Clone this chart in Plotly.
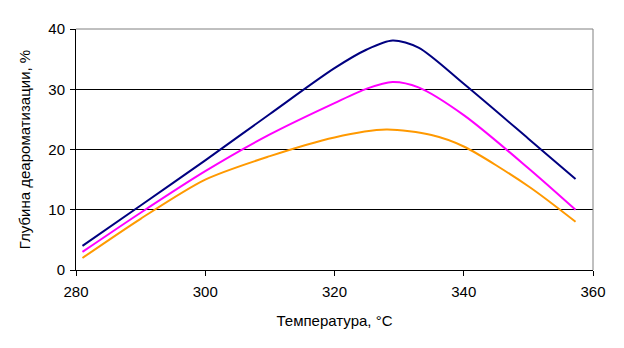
import plotly.graph_objects as go

# Temperature points (°C) and dearomatization depth (%) for three series
x_blue = [281, 290, 300, 310, 320, 325, 329, 333, 340, 350, 357.3]
y_blue = [4.0, 10.7, 18.2, 25.9, 33.5, 36.6, 38.1, 36.9, 30.9, 21.8, 15.1]

x_pink = [281, 290, 300, 310, 320, 325, 329, 333, 340, 350, 357.3]
y_pink = [3.0, 9.5, 16.4, 22.5, 27.7, 30.1, 31.2, 30.3, 25.7, 16.9, 10.0]

x_orange = [281, 290, 300, 310, 320, 328, 335, 340, 350, 357.3]
y_orange = [2.0, 8.5, 15.0, 18.9, 22.0, 23.3, 22.4, 20.5, 13.9, 8.0]

x_ticks = [280, 300, 320, 340, 360]
y_ticks = [0, 10, 20, 30, 40]

series = [
    (x_blue, y_blue, "#000080"),
    (x_pink, y_pink, "#FF00FF"),
    (x_orange, y_orange, "#FF9900"),
]

fig = go.Figure()
for xs, ys, col in series:
    fig.add_trace(go.Scatter(x=xs, y=ys, mode="lines",
                             line=dict(color=col, width=2, shape="spline", smoothing=0.8),
                             showlegend=False, hoverinfo="skip"))

font = dict(family="Liberation Sans, Arial, sans-serif", size=15, color="#000000")

fig.update_layout(
    width=624, height=348,
    margin=dict(l=76, r=31, t=29, b=78),
    paper_bgcolor="white", plot_bgcolor="white",
    font=font,
    xaxis=dict(range=[280, 360], tickvals=x_ticks, ticktext=[str(v) for v in x_ticks],
               showgrid=False, zeroline=False, showline=True, linecolor="black", linewidth=1,
               ticks="outside", ticklen=5, tickcolor="black", ticklabelstandoff=3,
               title=dict(text="Температура, °C", font=font, standoff=16)),
    yaxis=dict(range=[0, 40], tickvals=y_ticks, ticktext=[str(v) for v in y_ticks],
               showgrid=True, gridcolor="black", gridwidth=1, zeroline=False,
               showline=True, linecolor="black", linewidth=1,
               ticks="outside", ticklen=5, tickcolor="black", ticklabelstandoff=2,
               title=dict(text="Глубина деароматизации, %", font=font, standoff=14)),
)

# gray plot-area border at top and right
fig.add_shape(type="line", xref="paper", yref="paper", x0=0, x1=1, y0=1, y1=1,
              line=dict(color="#808080", width=1))
fig.add_shape(type="line", xref="paper", yref="paper", x0=1, x1=1, y0=0, y1=1,
              line=dict(color="#808080", width=1))

fig.write_html("out.html")
